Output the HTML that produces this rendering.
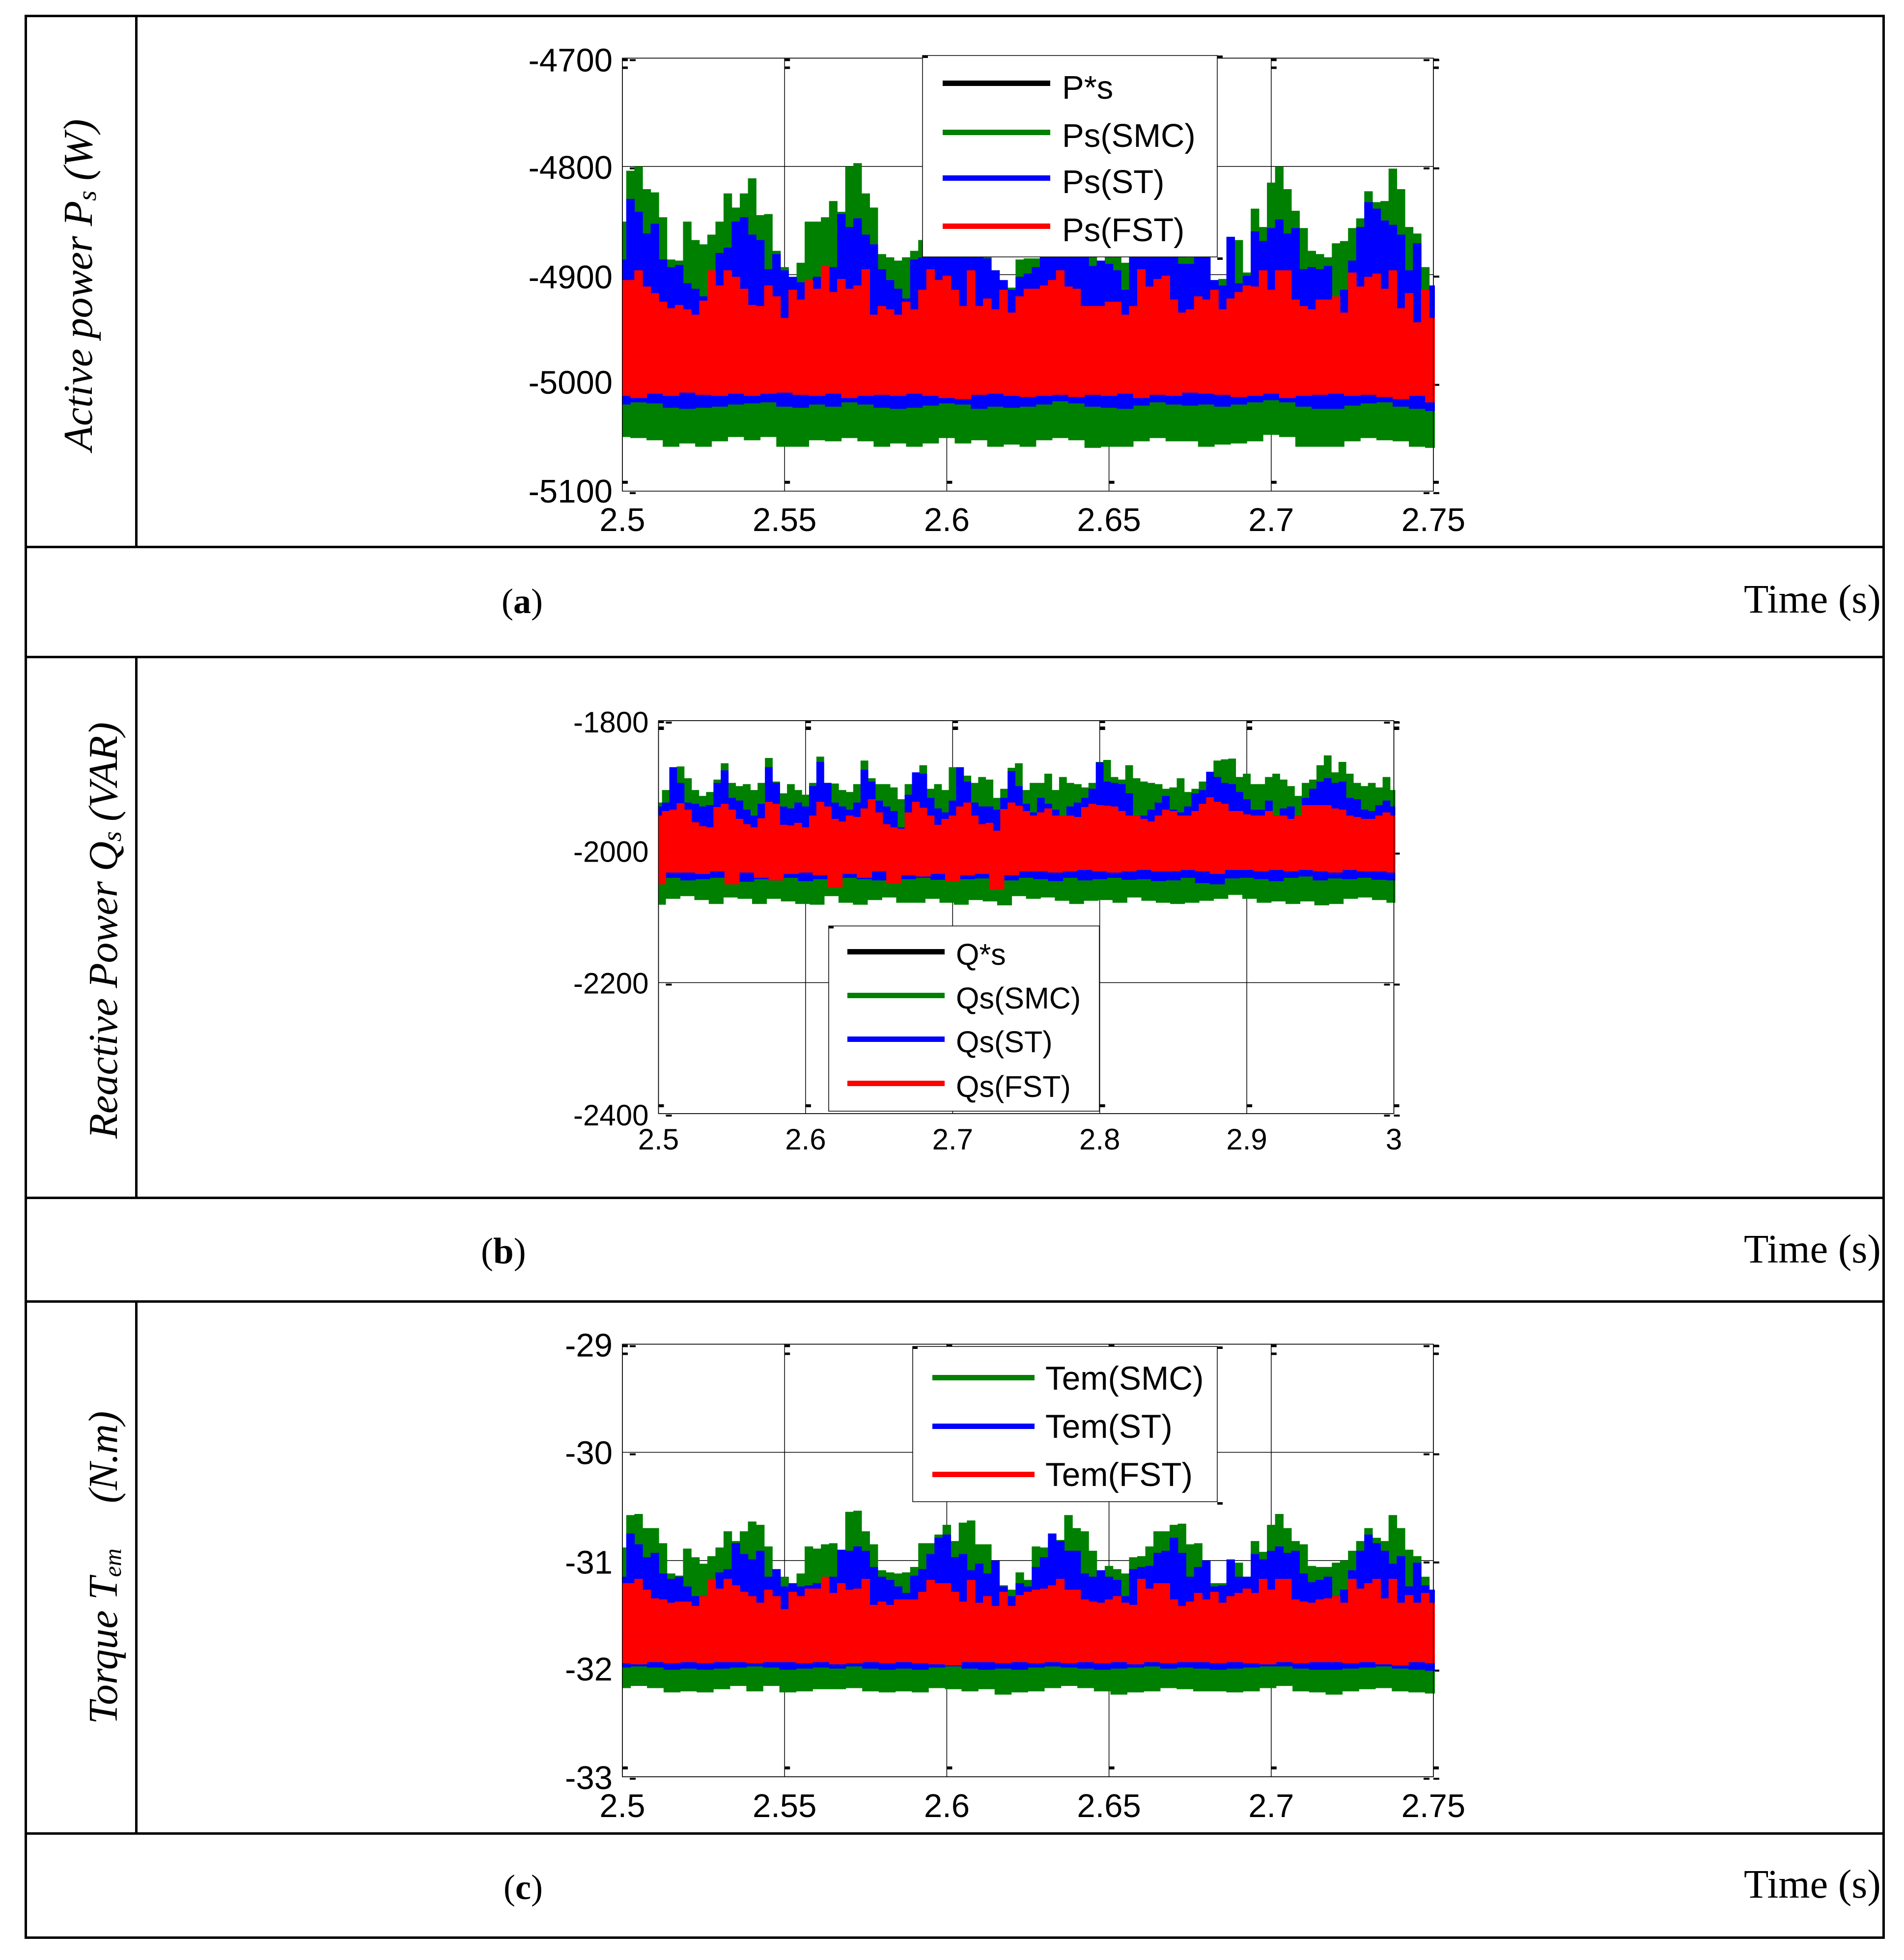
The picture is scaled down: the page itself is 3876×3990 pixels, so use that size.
<!DOCTYPE html>
<html lang="en">
<head>
<meta charset="utf-8">
<title>Active power, reactive power and torque comparison</title>
<style>
html,body{margin:0;padding:0;background:#fff;}
svg{display:block;}
.serif{font-family:"Liberation Serif","Times New Roman",serif;fill:#000;}
.sans{font-family:"Liberation Sans",Arial,sans-serif;fill:#000;}
</style>
</head>
<body>
<svg xmlns="http://www.w3.org/2000/svg" width="3876" height="3990" viewBox="0 0 3876 3990">
<rect x="0" y="0" width="3876" height="3990" fill="#fff"/>

<g id="panel-a"></g>
<g>
  <rect x="1878" y="113" width="600" height="410" fill="#fff" stroke="#000" stroke-width="1.5"/>
  <rect x="1878" y="113" width="11" height="5" fill="#000"/>
  <rect x="2478" y="113" width="11" height="5" fill="#000"/>
  <rect x="2478" y="524" width="11" height="5" fill="#000"/>
  <rect x="1919" y="164" width="219" height="11" fill="#000"/>
  <text class="sans" x="2162" y="201" font-size="67">P*s</text>
  <rect x="1919" y="264" width="219" height="11" fill="#008000"/>
  <text class="sans" x="2162" y="299" font-size="67">Ps(SMC)</text>
  <rect x="1919" y="357" width="219" height="11" fill="#0000ff"/>
  <text class="sans" x="2162" y="393" font-size="67">Ps(ST)</text>
  <rect x="1919" y="455" width="219" height="11" fill="#ff0000"/>
  <text class="sans" x="2162" y="491" font-size="67">Ps(FST)</text>
</g>

<g id="panel-b"></g>
<g>
  <rect x="1687" y="1885" width="551" height="377" fill="#fff" stroke="#000" stroke-width="1.5"/>
  <rect x="1687" y="1885" width="10" height="5" fill="#000"/>
  <rect x="1725" y="1932" width="198" height="11" fill="#000"/>
  <text class="sans" x="1946" y="1964" font-size="61">Q*s</text>
  <rect x="1725" y="2021" width="198" height="11" fill="#008000"/>
  <text class="sans" x="1946" y="2053" font-size="61">Qs(SMC)</text>
  <rect x="1725" y="2110" width="198" height="11" fill="#0000ff"/>
  <text class="sans" x="1946" y="2142" font-size="61">Qs(ST)</text>
  <rect x="1725" y="2200" width="198" height="11" fill="#ff0000"/>
  <text class="sans" x="1946" y="2233" font-size="61">Qs(FST)</text>
</g>

<g id="panel-c"></g>
<g>
  <rect x="1858" y="2741" width="620" height="316" fill="#fff" stroke="#000" stroke-width="1.5"/>
  <rect x="1858" y="2741" width="10" height="5" fill="#000"/>
  <rect x="2478" y="2741" width="11" height="5" fill="#000"/>
  <rect x="2478" y="3058" width="11" height="5" fill="#000"/>
  <rect x="1898" y="2799" width="208" height="11" fill="#008000"/>
  <text class="sans" x="2128" y="2829" font-size="67.5">Tem(SMC)</text>
  <rect x="1898" y="2898" width="208" height="11" fill="#0000ff"/>
  <text class="sans" x="2128" y="2927" font-size="67.5">Tem(ST)</text>
  <rect x="1898" y="2996" width="208" height="11" fill="#ff0000"/>
  <text class="sans" x="2128" y="3025" font-size="67.5">Tem(FST)</text>
</g>

<g>
  <rect x="50" y="30" width="3786" height="5" fill="#000"/>
  <rect x="50" y="30" width="5" height="3916" fill="#000"/>
  <rect x="3832" y="30" width="5" height="3916" fill="#000"/>
  <rect x="50" y="3942" width="3787" height="5" fill="#000"/>
  <rect x="50" y="1111" width="3787" height="5" fill="#000"/>
  <rect x="50" y="1335" width="3787" height="5" fill="#000"/>
  <rect x="50" y="2436" width="3787" height="5" fill="#000"/>
  <rect x="50" y="2647" width="3787" height="5" fill="#000"/>
  <rect x="50" y="3730" width="3787" height="5" fill="#000"/>
  <rect x="275" y="30" width="5" height="1083" fill="#000"/>
  <rect x="275" y="1337" width="5" height="1101" fill="#000"/>
  <rect x="275" y="2649" width="5" height="1083" fill="#000"/>
</g>

<text class="serif" transform="translate(187 918) rotate(-90)" font-size="84" font-style="italic" letter-spacing="-0.3">Active power P<tspan font-size="54" dy="8">s</tspan><tspan dy="-8"> (W)</tspan></text>
<text class="serif" transform="translate(238 2318) rotate(-90)" font-size="84" font-style="italic" letter-spacing="-0.4">Reactive Power Q<tspan font-size="54" dy="8">s</tspan><tspan dy="-8"> (VAR)</tspan></text>
<text class="serif" transform="translate(238 3510) rotate(-90)" font-size="84" font-style="italic">Torque T<tspan font-size="50" dy="8">em</tspan><tspan dy="-8" dx="92" letter-spacing="-1.5">(N.m)</tspan></text>

<text class="serif" x="1021" y="1248" font-size="72">(<tspan font-weight="bold">a</tspan>)</text>
<text class="serif" x="979" y="2572" font-size="75">(<tspan font-weight="bold">b</tspan>)</text>
<text class="serif" x="1025" y="3866" font-size="72">(<tspan font-weight="bold">c</tspan>)</text>

<text class="serif" x="3550" y="1247" font-size="82.5">Time (s)</text>
<text class="serif" x="3550" y="2570" font-size="82.5">Time (s)</text>
<text class="serif" x="3550" y="3863" font-size="82.5">Time (s)</text>
</svg>

<script>
/* ---------- Panel A: active power Ps (W) ---------- */
const aXTicks = [2.5, 2.55, 2.6, 2.65, 2.7, 2.75];
const aXLabels = ['2.5', '2.55', '2.6', '2.65', '2.7', '2.75'];
const aYTicks = [-4700, -4800, -4900, -5000, -5100];
const aYLabels = ['-4700', '-4800', '-4900', '-5000', '-5100'];
const aReference = [-5000, -5000];
const aSmcUpper = [-4851,-4804,-4800,-4821,-4824,-4847,-4886,-4887,-4851,-4868,-4872,-4863,-4851,-4825,-4838,-4825,-4811,-4845,-4844,-4878,-4893,-4905,-4889,-4851,-4851,-4847,-4832,-4842,-4800,-4797,-4825,-4838,-4881,-4884,-4887,-4884,-4878,-4868,-4860,-4850,-4840,-4855,-4830,-4850,-4870,-4880,-4896,-4907,-4912,-4886,-4885,-4885,-4870,-4865,-4860,-4860,-4870,-4875,-4880,-4887,-4884,-4884,-4889,-4875,-4870,-4865,-4860,-4870,-4875,-4880,-4884,-4884,-4880,-4905,-4904,-4866,-4868,-4898,-4839,-4856,-4815,-4800,-4821,-4841,-4857,-4878,-4881,-4884,-4871,-4869,-4857,-4848,-4823,-4833,-4832,-4802,-4821,-4856,-4862,-4893,-4914];
const aStUpper = [-4886,-4830,-4842,-4862,-4853,-4886,-4893,-4891,-4908,-4913,-4920,-4915,-4880,-4875,-4851,-4847,-4863,-4868,-4895,-4881,-4896,-4902,-4907,-4907,-4902,-4907,-4893,-4844,-4856,-4848,-4863,-4872,-4895,-4905,-4913,-4922,-4886,-4884,-4870,-4870,-4865,-4870,-4860,-4870,-4875,-4885,-4896,-4905,-4914,-4902,-4899,-4893,-4884,-4875,-4875,-4875,-4875,-4875,-4892,-4887,-4890,-4896,-4914,-4884,-4880,-4880,-4880,-4884,-4884,-4890,-4890,-4884,-4884,-4905,-4910,-4865,-4908,-4901,-4860,-4869,-4857,-4849,-4862,-4857,-4895,-4893,-4895,-4892,-4923,-4914,-4887,-4856,-4833,-4839,-4850,-4854,-4863,-4896,-4871,-4914,-4910];
const aFstUpper = [-4905,-4905,-4896,-4911,-4917,-4925,-4931,-4928,-4932,-4937,-4924,-4896,-4910,-4896,-4902,-4913,-4928,-4929,-4910,-4920,-4940,-4914,-4923,-4905,-4913,-4892,-4916,-4904,-4913,-4910,-4895,-4937,-4929,-4932,-4937,-4925,-4932,-4914,-4895,-4905,-4901,-4914,-4929,-4896,-4929,-4922,-4932,-4914,-4935,-4920,-4913,-4913,-4910,-4905,-4896,-4911,-4913,-4929,-4929,-4929,-4925,-4925,-4937,-4929,-4895,-4911,-4904,-4901,-4923,-4935,-4932,-4920,-4923,-4914,-4932,-4922,-4916,-4910,-4911,-4896,-4914,-4896,-4896,-4923,-4929,-4932,-4923,-4923,-4920,-4935,-4898,-4911,-4902,-4899,-4913,-4896,-4931,-4917,-4944,-4914,-4940];
const aSmcLower = [-5050,-5051,-5053,-5059,-5056,-5059,-5054,-5050,-5053,-5050,-5059,-5059,-5053,-5054,-5051,-5054,-5059,-5056,-5059,-5056,-5051,-5056,-5053,-5059,-5057,-5059,-5053,-5051,-5053,-5060,-5059,-5059,-5054,-5051,-5054,-5054,-5059,-5057,-5056,-5054,-5048,-5050,-5059,-5059,-5059,-5054,-5051,-5053,-5054,-5059,-5060];
const aStLower = [-5020,-5018,-5019,-5023,-5024,-5023,-5022,-5020,-5019,-5018,-5022,-5023,-5020,-5022,-5018,-5020,-5023,-5024,-5023,-5021,-5019,-5020,-5024,-5022,-5023,-5022,-5020,-5017,-5019,-5022,-5023,-5024,-5021,-5018,-5020,-5021,-5020,-5022,-5020,-5018,-5016,-5018,-5022,-5024,-5024,-5021,-5019,-5018,-5022,-5024,-5026];
const aFstLower = [-5012,-5014,-5010,-5012,-5009,-5011,-5012,-5010,-5012,-5010,-5009,-5011,-5012,-5010,-5014,-5012,-5011,-5012,-5010,-5012,-5014,-5015,-5011,-5010,-5012,-5013,-5012,-5011,-5013,-5011,-5012,-5010,-5014,-5011,-5012,-5009,-5010,-5011,-5013,-5012,-5010,-5014,-5012,-5011,-5010,-5012,-5011,-5013,-5015,-5012,-5018];

/* ---------- Panel B: reactive power Qs (VAR) ---------- */
const bXTicks = [2.5, 2.6, 2.7, 2.8, 2.9, 3];
const bXLabels = ['2.5', '2.6', '2.7', '2.8', '2.9', '3'];
const bYTicks = [-1800, -2000, -2200, -2400];
const bYLabels = ['-1800', '-2000', '-2200', '-2400'];
const bReference = [-2000, -2000];
const bSmcUpper = [-1925,-1906,-1890,-1870,-1888,-1906,-1915,-1909,-1890,-1865,-1895,-1900,-1897,-1906,-1895,-1857,-1893,-1911,-1897,-1906,-1913,-1895,-1855,-1895,-1896,-1906,-1909,-1897,-1861,-1888,-1897,-1897,-1902,-1920,-1897,-1886,-1868,-1904,-1897,-1906,-1871,-1872,-1884,-1895,-1886,-1890,-1918,-1904,-1872,-1865,-1906,-1895,-1895,-1881,-1906,-1886,-1895,-1897,-1902,-1895,-1863,-1860,-1886,-1890,-1868,-1888,-1893,-1895,-1897,-1904,-1902,-1888,-1909,-1904,-1893,-1879,-1861,-1859,-1858,-1886,-1881,-1897,-1897,-1886,-1881,-1890,-1900,-1915,-1895,-1890,-1868,-1853,-1879,-1863,-1881,-1895,-1900,-1895,-1902,-1886,-1906];
const bStUpper = [-1931,-1925,-1871,-1895,-1925,-1927,-1931,-1929,-1895,-1876,-1918,-1922,-1936,-1945,-1927,-1871,-1895,-1931,-1934,-1925,-1931,-1900,-1863,-1895,-1925,-1931,-1936,-1925,-1875,-1893,-1922,-1931,-1938,-1963,-1913,-1879,-1881,-1918,-1934,-1940,-1922,-1871,-1893,-1925,-1931,-1931,-1936,-1918,-1877,-1900,-1927,-1940,-1918,-1927,-1936,-1945,-1931,-1925,-1918,-1904,-1864,-1893,-1895,-1897,-1911,-1945,-1945,-1936,-1925,-1915,-1936,-1940,-1931,-1911,-1906,-1878,-1886,-1895,-1897,-1909,-1920,-1936,-1936,-1922,-1945,-1934,-1931,-1945,-1918,-1904,-1893,-1888,-1895,-1893,-1918,-1920,-1936,-1938,-1929,-1922,-1931];
const bFstUpper = [-1945,-1938,-1936,-1926,-1936,-1955,-1961,-1963,-1932,-1927,-1936,-1950,-1958,-1963,-1949,-1924,-1927,-1959,-1960,-1956,-1963,-1945,-1924,-1931,-1950,-1954,-1945,-1947,-1934,-1920,-1940,-1958,-1963,-1965,-1940,-1924,-1933,-1945,-1959,-1950,-1945,-1931,-1925,-1945,-1958,-1956,-1968,-1935,-1925,-1930,-1938,-1945,-1940,-1934,-1945,-1945,-1945,-1947,-1932,-1927,-1929,-1930,-1931,-1938,-1945,-1945,-1950,-1954,-1945,-1936,-1938,-1945,-1945,-1938,-1927,-1917,-1924,-1927,-1938,-1938,-1943,-1945,-1945,-1938,-1945,-1945,-1950,-1945,-1929,-1929,-1929,-1929,-1934,-1936,-1945,-1947,-1950,-1950,-1945,-1940,-1945];
const bSmcLower = [-2081,-2072,-2068,-2074,-2080,-2070,-2072,-2080,-2072,-2076,-2080,-2081,-2068,-2078,-2081,-2074,-2070,-2078,-2078,-2072,-2078,-2081,-2074,-2076,-2082,-2068,-2072,-2070,-2075,-2080,-2075,-2074,-2078,-2070,-2075,-2078,-2080,-2078,-2075,-2072,-2066,-2072,-2078,-2076,-2080,-2076,-2082,-2080,-2072,-2070,-2074,-2078];
const bStLower = [-2042,-2040,-2044,-2042,-2040,-2044,-2046,-2042,-2044,-2040,-2045,-2042,-2043,-2040,-2042,-2044,-2045,-2042,-2040,-2043,-2044,-2042,-2041,-2045,-2044,-2040,-2042,-2045,-2040,-2044,-2042,-2040,-2043,-2042,-2045,-2044,-2040,-2048,-2050,-2041,-2040,-2042,-2045,-2040,-2038,-2044,-2041,-2042,-2040,-2043,-2044];
const bFstLower = [-2050,-2032,-2032,-2034,-2030,-2050,-2032,-2040,-2044,-2034,-2032,-2036,-2055,-2034,-2040,-2030,-2048,-2036,-2038,-2034,-2046,-2036,-2034,-2058,-2036,-2030,-2030,-2032,-2030,-2028,-2030,-2032,-2030,-2028,-2030,-2030,-2028,-2030,-2034,-2028,-2028,-2030,-2028,-2030,-2028,-2030,-2032,-2028,-2030,-2030,-2032];

/* ---------- Panel C: electromagnetic torque Tem (N.m) ---------- */
const cXTicks = [2.5, 2.55, 2.6, 2.65, 2.7, 2.75];
const cXLabels = ['2.5', '2.55', '2.6', '2.65', '2.7', '2.75'];
const cYTicks = [-29, -30, -31, -32, -33];
const cYLabels = ['-29', '-30', '-31', '-32', '-33'];
const cSmcUpper = [-30.88,-30.58,-30.57,-30.70,-30.70,-30.84,-31.12,-31.14,-30.89,-30.97,-31.03,-30.96,-30.88,-30.73,-30.82,-30.73,-30.64,-30.67,-30.87,-31.12,-31.15,-31.23,-31.12,-30.87,-30.89,-30.85,-30.84,-30.91,-30.55,-30.54,-30.73,-30.85,-31.09,-31.11,-31.12,-31.11,-31.06,-30.84,-30.84,-30.76,-30.67,-30.82,-30.65,-30.63,-30.85,-30.85,-31.20,-31.23,-31.27,-31.11,-31.18,-30.87,-30.88,-30.82,-30.81,-30.58,-30.70,-30.73,-30.91,-31.12,-31.05,-31.08,-31.12,-30.97,-30.96,-30.87,-30.73,-30.73,-30.67,-30.66,-30.85,-30.84,-31.02,-31.21,-31.21,-31.12,-31.02,-31.15,-30.82,-30.92,-30.67,-30.57,-30.70,-30.82,-30.85,-31.05,-31.06,-31.06,-31.02,-31.00,-30.91,-30.82,-30.70,-30.79,-30.82,-30.58,-30.70,-30.90,-30.96,-31.15,-31.27];
const cStUpper = [-31.15,-30.75,-30.85,-30.97,-30.93,-31.12,-31.17,-31.15,-31.24,-31.33,-31.33,-31.30,-31.11,-31.08,-30.84,-30.94,-30.99,-30.91,-31.15,-31.08,-31.24,-31.21,-31.24,-31.23,-31.21,-31.21,-31.15,-30.90,-30.91,-30.87,-30.91,-31.06,-31.15,-31.18,-31.24,-31.30,-31.14,-31.08,-30.94,-30.79,-30.76,-30.97,-30.94,-31.09,-31.03,-31.12,-31.00,-31.24,-31.33,-31.21,-31.24,-31.06,-30.97,-30.75,-30.82,-30.91,-30.91,-31.12,-31.15,-31.09,-31.15,-31.18,-31.33,-31.08,-31.06,-31.05,-30.93,-30.91,-30.79,-30.93,-31.15,-31.06,-31.00,-31.24,-31.23,-30.99,-31.15,-31.15,-30.94,-30.99,-30.91,-30.87,-30.93,-30.91,-31.12,-31.20,-31.18,-31.15,-31.33,-31.27,-31.09,-30.91,-30.76,-30.84,-30.91,-31.03,-30.96,-31.24,-31.02,-31.23,-31.27];
const cFstUpper = [-31.21,-31.21,-31.17,-31.27,-31.35,-31.36,-31.39,-31.38,-31.38,-31.42,-31.33,-31.17,-31.26,-31.17,-31.23,-31.29,-31.33,-31.39,-31.27,-31.33,-31.45,-31.29,-31.33,-31.26,-31.26,-31.15,-31.30,-31.21,-31.27,-31.26,-31.17,-31.41,-31.38,-31.41,-31.36,-31.36,-31.36,-31.29,-31.18,-31.21,-31.21,-31.29,-31.38,-31.18,-31.39,-31.33,-31.42,-31.29,-31.42,-31.32,-31.29,-31.27,-31.26,-31.23,-31.17,-31.27,-31.27,-31.36,-31.38,-31.39,-31.36,-31.33,-31.39,-31.41,-31.17,-31.26,-31.21,-31.21,-31.36,-31.42,-31.38,-31.30,-31.36,-31.29,-31.39,-31.33,-31.30,-31.26,-31.30,-31.17,-31.27,-31.17,-31.17,-31.36,-31.38,-31.39,-31.36,-31.35,-31.33,-31.39,-31.17,-31.26,-31.21,-31.17,-31.35,-31.17,-31.39,-31.32,-31.39,-31.30,-31.39];
const cSmcLower = [-32.18,-32.16,-32.18,-32.22,-32.21,-32.22,-32.19,-32.16,-32.21,-32.16,-32.22,-32.21,-32.19,-32.19,-32.18,-32.21,-32.22,-32.21,-32.22,-32.18,-32.19,-32.21,-32.19,-32.24,-32.22,-32.21,-32.18,-32.16,-32.18,-32.21,-32.24,-32.22,-32.21,-32.18,-32.19,-32.21,-32.21,-32.22,-32.21,-32.18,-32.16,-32.21,-32.22,-32.24,-32.21,-32.19,-32.18,-32.21,-32.22,-32.23];
const cStLower = [-31.99,-31.98,-31.99,-32.01,-32.00,-32.01,-32.00,-31.99,-31.98,-31.99,-32.01,-32.00,-31.99,-32.00,-31.98,-32.00,-32.01,-32.00,-32.01,-31.99,-31.98,-32.00,-32.01,-32.00,-32.01,-31.99,-31.98,-31.99,-32.00,-32.01,-32.00,-31.99,-31.98,-32.00,-31.99,-32.00,-32.01,-32.00,-31.99,-31.98,-31.98,-32.00,-32.01,-32.01,-32.00,-31.99,-31.98,-32.00,-32.01,-32.02];
const cFstLower = [-31.95,-31.96,-31.94,-31.95,-31.94,-31.95,-31.94,-31.94,-31.95,-31.94,-31.94,-31.95,-31.94,-31.96,-31.95,-31.94,-31.95,-31.94,-31.95,-31.96,-31.97,-31.94,-31.94,-31.95,-31.94,-31.95,-31.94,-31.95,-31.94,-31.95,-31.94,-31.96,-31.94,-31.95,-31.94,-31.94,-31.95,-31.94,-31.95,-31.96,-31.94,-31.95,-31.94,-31.94,-31.95,-31.94,-31.96,-31.97,-31.94,-31.95];

const SVG_NS = 'http://www.w3.org/2000/svg';

function make(parent, tag, attrs) {
  const node = document.createElementNS(SVG_NS, tag);
  for (const key in attrs) node.setAttribute(key, attrs[key]);
  parent.appendChild(node);
  return node;
}

function linearScale(domain, range) {
  return function (v) {
    return range[0] + (v - domain[0]) * (range[1] - range[0]) / (domain[1] - domain[0]);
  };
}

/* one stroked path of vertical spans from the band centre to the envelope value */
function envelopePath(parent, values, xDomain, xScale, yScale, centre, colour, name) {
  const last = values.length - 1;
  let d = '';
  values.forEach(function (v, i) {
    const t = xDomain[0] + (xDomain[1] - xDomain[0]) * i / last;
    const x = xScale(t).toFixed(1);
    d += 'M' + x + ' ' + yScale(centre).toFixed(1) + 'V' + yScale(v).toFixed(1);
  });
  const width = Math.abs(xScale(xDomain[1]) - xScale(xDomain[0])) / last + 0.8;
  const path = make(parent, 'path', { d: d, fill: 'none', stroke: colour, 'stroke-width': width.toFixed(2) });
  
  
}

/* thin reference trace joining its samples across the time range */
function referenceLine(parent, values, xDomain, xScale, yScale) {
  const last = values.length - 1;
  const pts = values.map(function (v, i) {
    const t = xDomain[0] + (xDomain[1] - xDomain[0]) * i / last;
    return xScale(t).toFixed(1) + ',' + yScale(v).toFixed(1);
  }).join(' ');
  const line = make(parent, 'polyline', { points: pts, fill: 'none', stroke: '#000', 'stroke-width': 6 });
  
  
}

function drawPanel(cfg) {
  const root = document.getElementById(cfg.id);
  const box = cfg.box;
  const x = linearScale(cfg.xDomain, [box.l, box.r]);
  const y = linearScale(cfg.yDomain, [box.b, box.t]);

  const plotBg = make(root, 'rect', { x: box.l, y: box.t, width: box.r - box.l, height: box.b - box.t, fill: '#fff' });
  
  

  const clip = make(root, 'clipPath', { id: cfg.id + '-clip' });
  make(clip, 'rect', { x: box.l - 1, y: box.t, width: box.r - box.l + 4, height: box.b - box.t });

  cfg.xTicks.forEach(function (t, i) {
    const grid = make(root, 'line', { x1: x(t), x2: x(t), y1: box.t, y2: box.b, stroke: '#000', 'stroke-width': 1.5 });
    
    
    const label = make(root, 'text', { x: x(t), y: cfg.xLabelBaseline, 'text-anchor': 'middle', 'font-size': cfg.fontSize, class: 'sans' });
    label.textContent = cfg.xLabels[i];
    
    
    cfg.xTickRows.forEach(function (row) {
      const mark = make(root, 'rect', { x: x(t), y: row[0] < 0 ? box.b + row[0] : box.t + row[0], width: 11, height: row[1], fill: '#000' });
      
      
    });
  });

  cfg.yTicks.forEach(function (v, i) {
    const grid = make(root, 'line', { x1: box.l, x2: box.r, y1: y(v), y2: y(v), stroke: '#000', 'stroke-width': 1.5 });
    
    
    const label = make(root, 'text', { x: box.l - 20, y: y(v) + cfg.yLabelShift[i], 'text-anchor': 'end', 'font-size': cfg.fontSize, class: 'sans' });
    label.textContent = cfg.yLabels[i];
    
    
    [box.l + 15, box.r - 20, box.r].forEach(function (mx) {
      const mark = make(root, 'rect', { x: mx, y: y(v) + 2, width: 12, height: 4, fill: '#000' });
      
      
    });
  });

  const seriesGroup = make(root, 'g', { 'clip-path': 'url(#' + cfg.id + '-clip)' });
  
  

  if (cfg.reference) {
    referenceLine(seriesGroup, cfg.reference, cfg.xDomain, x, y);
  }
  envelopePath(seriesGroup, cfg.smcUpper, cfg.xDomain, x, y, cfg.centre, '#008000', 'series-smc-upper');
  envelopePath(seriesGroup, cfg.smcLower, cfg.xDomain, x, y, cfg.centre, '#008000', 'series-smc-lower');
  envelopePath(seriesGroup, cfg.stUpper, cfg.xDomain, x, y, cfg.centre, '#0000ff', 'series-st-upper');
  envelopePath(seriesGroup, cfg.stLower, cfg.xDomain, x, y, cfg.centre, '#0000ff', 'series-st-lower');
  envelopePath(seriesGroup, cfg.fstUpper, cfg.xDomain, x, y, cfg.centre, '#ff0000', 'series-fst-upper');
  envelopePath(seriesGroup, cfg.fstLower, cfg.xDomain, x, y, cfg.centre, '#ff0000', 'series-fst-lower');

  const frame = make(root, 'rect', { x: box.l, y: box.t, width: box.r - box.l, height: box.b - box.t, fill: 'none', stroke: '#000', 'stroke-width': 1.5 });
  
  
}

drawPanel({
  id: 'panel-a',
  box: { l: 1267, r: 2918, t: 118.4, b: 999.8 },
  xDomain: [2.5, 2.75], yDomain: [-5100, -4700], centre: -4975,
  xTicks: aXTicks, xLabels: aXLabels, yTicks: aYTicks, yLabels: aYLabels,
  fontSize: 67, xLabelBaseline: 1081, yLabelShift: [27, 25, 28, 22, 23],
  xTickRows: [[1, 5], [17, 5], [-21, 6]],
  reference: aReference,
  smcUpper: aSmcUpper, stUpper: aStUpper, fstUpper: aFstUpper,
  smcLower: aSmcLower, stLower: aStLower, fstLower: aFstLower
});

drawPanel({
  id: 'panel-b',
  box: { l: 1340.5, r: 2837.5, t: 1467, b: 2267 },
  xDomain: [2.5, 3], yDomain: [-2400, -1800], centre: -2000,
  xTicks: bXTicks, xLabels: bXLabels, yTicks: bYTicks, yLabels: bYLabels,
  fontSize: 60, xLabelBaseline: 2340, yLabelShift: [24, 21, 22, 24],
  xTickRows: [[1, 4], [12, 7], [-19, 6]],
  reference: bReference,
  smcUpper: bSmcUpper, stUpper: bStUpper, fstUpper: bFstUpper,
  smcLower: bSmcLower, stLower: bStLower, fstLower: bFstLower
});

drawPanel({
  id: 'panel-c',
  box: { l: 1267, r: 2918, t: 2736.4, b: 3617 },
  xDomain: [2.5, 2.75], yDomain: [-33, -29], centre: -31.7,
  xTicks: cXTicks, xLabels: cXLabels, yTicks: cYTicks, yLabels: cYLabels,
  fontSize: 67, xLabelBaseline: 3699, yLabelShift: [25, 24, 27, 24, 25],
  xTickRows: [[1, 5], [17, 5], [-21, 6]],
  smcUpper: cSmcUpper, stUpper: cStUpper, fstUpper: cFstUpper,
  smcLower: cSmcLower, stLower: cStLower, fstLower: cFstLower
});
</script>
</body>
</html>
